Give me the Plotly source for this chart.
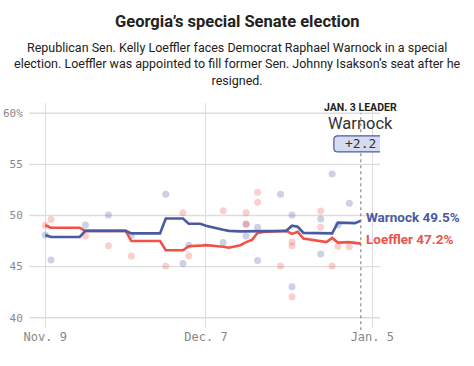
import plotly.graph_objects as go
import pandas as pd

# ---------------- data ----------------
avg_dates = ["2020-11-09", "2020-11-10", "2020-11-15", "2020-11-16", "2020-11-23", "2020-11-24",
             "2020-11-29", "2020-11-30", "2020-12-03", "2020-12-04", "2020-12-06", "2020-12-07",
             "2020-12-10", "2020-12-11", "2020-12-13", "2020-12-14", "2020-12-15", "2020-12-16",
             "2020-12-17", "2020-12-20", "2020-12-21", "2020-12-22", "2020-12-23", "2020-12-24",
             "2020-12-28", "2020-12-29", "2020-12-30", "2021-01-01", "2021-01-02", "2021-01-03"]
warnock_avg = [48.1, 47.9, 47.9, 48.5, 48.5, 48.25,
               48.25, 49.7, 49.7, 49.2, 49.2, 49.0,
               48.6, 48.5, 48.45, 48.45, 48.45, 48.5,
               48.45, 48.45, 48.5, 49.0, 48.9, 48.3,
               48.3, 48.25, 49.3, 49.3, 49.25, 49.5]
loeffler_avg = [49.05, 48.8, 48.8, 48.5, 48.5, 47.5,
                47.5, 46.6, 46.6, 47.0, 47.05, 47.1,
                46.95, 46.85, 47.1, 47.4, 47.6, 48.3,
                48.4, 48.5, 48.5, 48.2, 48.4, 47.75,
                47.4, 47.8, 47.35, 47.4, 47.3, 47.25]

warnock_poll_dates = ["2020-11-09", "2020-11-10", "2020-11-16", "2020-11-20", "2020-11-24", "2020-11-30",
                      "2020-12-03", "2020-12-04", "2020-12-10", "2020-12-14", "2020-12-14", "2020-12-16",
                      "2020-12-16", "2020-12-20", "2020-12-22", "2020-12-22", "2020-12-27", "2020-12-27",
                      "2020-12-29", "2020-12-30", "2021-01-01"]
warnock_poll_vals = [48.1, 45.65, 49.07, 50.05, 48.05, 52.07,
                     45.3, 47.1, 47.35, 49.14, 48.0, 48.85,
                     45.6, 52.07, 50.05, 43.03, 49.65, 46.23,
                     54.06, 49.07, 51.2]
loeffler_poll_dates = ["2020-11-09", "2020-11-10", "2020-11-16", "2020-11-20", "2020-11-24", "2020-11-30",
                       "2020-12-03", "2020-12-04", "2020-12-10", "2020-12-14", "2020-12-14", "2020-12-16",
                       "2020-12-16", "2020-12-20", "2020-12-22", "2020-12-22", "2020-12-22", "2020-12-27",
                       "2020-12-27", "2020-12-29", "2020-12-30", "2021-01-01"]
loeffler_poll_vals = [49.05, 49.6, 48.0, 47.05, 46.05, 45.06,
                      50.27, 46.07, 50.47, 50.27, 49.17, 52.27,
                      51.3, 45.06, 47.4, 47.05, 42.05, 50.45,
                      48.85, 45.06, 47.0, 46.95]

x_tick_vals = ["2020-11-09", "2020-12-07", "2021-01-05"]
x_tick_text = ["Nov. 9", "Dec. 7", "Jan. 5"]
y_tick_vals = [40, 45, 50, 55, 60]
y_tick_text = ["40", "45", "50", "55", "60%"]

leader_date = "2021-01-03"
leader_name = "Warnock"
leader_margin = "+2.2"
warnock_label = "Warnock 49.5%"
loeffler_label = "Loeffler 47.2%"

title_text = "Georgia’s special Senate election"
subtitle_text = ("Republican Sen. Kelly Loeffler faces Democrat Raphael Warnock in a special<br>"
                 "election. Loeffler was appointed to fill former Sen. Johnny Isakson’s seat after he<br>"
                 "resigned.")

# ---------------- style ----------------
BLUE = "#4a5aa2"
RED = "#f0524a"
GRID = "#dddddd"
SANS = "Roboto, Liberation Sans, sans-serif"
MONO = "DejaVu Sans Mono, monospace"

x_start = pd.Timestamp("2020-11-09") - pd.Timedelta(days=2.84)
x_end = pd.Timestamp("2020-11-09") + pd.Timedelta(days=58.34)

fig = go.Figure()

fig.add_trace(go.Scatter(x=warnock_poll_dates, y=warnock_poll_vals, mode="markers",
                         marker=dict(size=7, color=BLUE, opacity=0.28), hoverinfo="skip",
                         showlegend=False))
fig.add_trace(go.Scatter(x=loeffler_poll_dates, y=loeffler_poll_vals, mode="markers",
                         marker=dict(size=7, color=RED, opacity=0.28), hoverinfo="skip",
                         showlegend=False))
fig.add_trace(go.Scatter(x=avg_dates, y=loeffler_avg, mode="lines",
                         line=dict(color=RED, width=2.6), showlegend=False))
fig.add_trace(go.Scatter(x=avg_dates, y=warnock_avg, mode="lines",
                         line=dict(color=BLUE, width=2.6), showlegend=False))

# horizontal gridlines
for v in y_tick_vals:
    fig.add_shape(type="line", xref="paper", x0=0, x1=1, yref="y", y0=v, y1=v,
                  line=dict(color=GRID, width=1.3), layer="below")

# dotted leader line
fig.add_shape(type="line", xref="x", x0=leader_date, x1=leader_date, yref="paper", y0=-0.01, y1=0.955,
              line=dict(color="#777777", width=1, dash="dot"), layer="above")

# rounded box for margin
r = 4; hw = 27; hh = 8
path = (f"M {-hw + r} {-hh} L {hw - r} {-hh} Q {hw} {-hh} {hw} {-hh + r} L {hw} {hh - r} "
        f"Q {hw} {hh} {hw - r} {hh} L {-hw + r} {hh} Q {-hw} {hh} {-hw} {hh - r} "
        f"L {-hw} {-hh + r} Q {-hw} {-hh} {-hw + r} {-hh} Z")
fig.add_shape(type="path", xref="x", yref="y", xsizemode="pixel", ysizemode="pixel",
              xanchor=leader_date, yanchor=57.0, path=path,
              fillcolor="#d6dcef", line=dict(color=BLUE, width=1.2), layer="above")

fig.add_annotation(x=leader_date, y=0.982, xref="x", yref="paper", text="<b>JAN. 3 LEADER</b>",
                   showarrow=False, font=dict(family=SANS, size=10.5, color="#222222"),
                   xanchor="center", yanchor="middle")
fig.add_annotation(x=leader_date, y=0.911, xref="x", yref="paper", text=leader_name,
                   showarrow=False, font=dict(family=SANS, size=16.5, color="#333333"),
                   xanchor="center", yanchor="middle")
fig.add_annotation(x=leader_date, y=57.0, xref="x", yref="y", text=leader_margin,
                   showarrow=False, font=dict(family=MONO, size=13, color="#333333"),
                   xanchor="center", yanchor="middle")

fig.add_annotation(x=leader_date, y=49.85, xref="x", yref="y", text=f"<b>{warnock_label}</b>",
                   showarrow=False, font=dict(family=SANS, size=13.5, color=BLUE),
                   xanchor="left", yanchor="middle", xshift=3)
fig.add_annotation(x=leader_date, y=47.7, xref="x", yref="y", text=f"<b>{loeffler_label}</b>",
                   showarrow=False, font=dict(family=SANS, size=13.5, color=RED),
                   xanchor="left", yanchor="middle", xshift=3)

# title + subtitle (centered on the page: paper x for page center)
cx = (237 - 29) / 351
fig.add_annotation(x=cx, xref="paper", y=1.3634, yref="paper", text=f"<b>{title_text}</b>",
                   showarrow=False, font=dict(family=SANS, size=16.5, color="#222222"),
                   xanchor="center", yanchor="middle")
fig.add_annotation(x=cx, xref="paper", y=1.1746, yref="paper", text=subtitle_text,
                   showarrow=False, font=dict(family=SANS, size=12.5, color="#222222"),
                   xanchor="center", yanchor="middle", align="center")

fig.update_layout(
    width=474, height=366,
    margin=dict(l=29, r=94, t=103, b=38),
    paper_bgcolor="white", plot_bgcolor="white",
    xaxis=dict(range=[x_start, x_end], tickvals=x_tick_vals, ticktext=x_tick_text,
               showgrid=True, gridcolor=GRID, gridwidth=1, zeroline=False, showline=False,
               ticks="", automargin=False,
               tickfont=dict(family=MONO, size=12, color="#888888")),
    yaxis=dict(range=[39, 61], tickvals=y_tick_vals, ticktext=y_tick_text,
               showgrid=False, zeroline=False, showline=False, automargin=False,
               ticks="outside", ticklen=3, tickcolor="rgba(0,0,0,0)",
               tickfont=dict(family=MONO, size=11, color="#888888")),
    showlegend=False,
)

fig.write_html("out.html", config={"displayModeBar": False},
               post_script="document.body.style.margin='0';document.body.style.padding='0';")
